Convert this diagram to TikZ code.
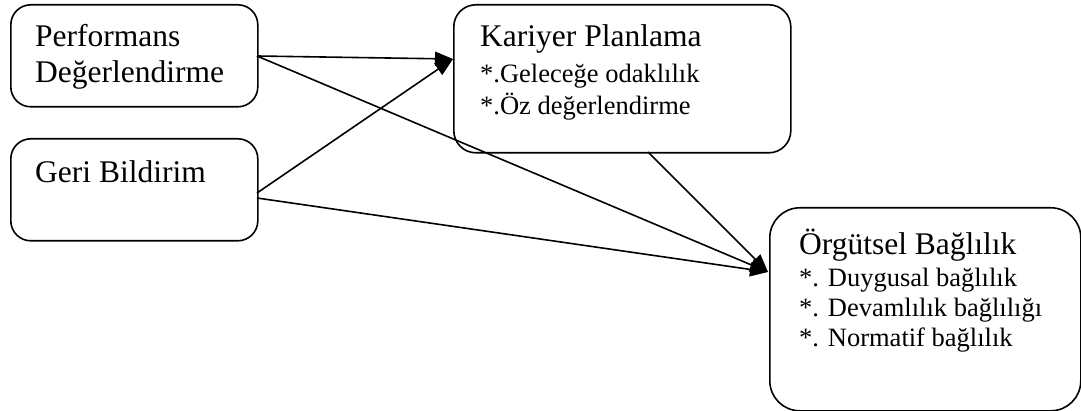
\documentclass[tikz,border=0pt]{standalone}
\usepackage{fontspec}
\setmainfont{Liberation Serif}
\usetikzlibrary{arrows.meta}
\tikzset{
  box/.style={draw, line width=1.6pt, anchor=north west, inner sep=0pt},
  title/.style={anchor=base west, inner sep=0pt, font=\fontsize{31.5}{36}\selectfont},
  item/.style={anchor=base west, inner sep=0pt, font=\fontsize{26.5}{30}\selectfont},
  link/.style={line width=1.6pt, -{Triangle[length=18pt,width=14pt]}}
}
\begin{document}
\begin{tikzpicture}[x=1pt,y=-1pt]
\useasboundingbox (0,0) rectangle (1081,411);

% boxes
\node[box, rounded corners=20pt, minimum width=247pt, minimum height=102pt] (perf) at (10,4) {};
\node[box, rounded corners=20pt, minimum width=247pt, minimum height=102pt] (geri) at (10,138) {};
\node[box, rounded corners=22pt, minimum width=337pt, minimum height=148pt] (kar) at (453,4) {};
\node[box, rounded corners=30pt, minimum width=311pt, minimum height=203pt] (org) at (769,207) {};

% texts
\node[title] (perf1) at (35,47) {Performans};
\node[title] (perf2) at (35,83) {Değerlendirme};
\node[title] (geri1) at (35,183) {Geri Bildirim};
\node[title] (kar1) at (480,47) {Kariyer Planlama};
\node[item] (kar2) at (480,83) {*.Geleceğe odaklılık};
\node[item] (kar3) at (480,115) {*.Öz değerlendirme};
\node[title] (org1) at (799,255) {Örgütsel Bağlılık};
\node[item] (org2) at (799,287) {*. Duygusal bağlılık};
\node[item] (org3) at (799,317) {*. Devamlılık bağlılığı};
\node[item] (org4) at (799,347) {*. Normatif bağlılık};

% connector end points
\coordinate (perfout) at (257,56);
\coordinate (geriout1) at (257,193);
\coordinate (geriout2) at (257,198);
\coordinate (karout) at (648,152);
\coordinate (karin) at (453,59);
\coordinate (orgin) at (768,272);

% connectors
\draw[link] (perfout) -- (karin);
\draw[link] (geriout1) -- (karin);
\draw[link] (perfout) -- (orgin);
\draw[link] (geriout2) -- (orgin);
\draw[link] (karout) -- (orgin);
\end{tikzpicture}
\end{document}
